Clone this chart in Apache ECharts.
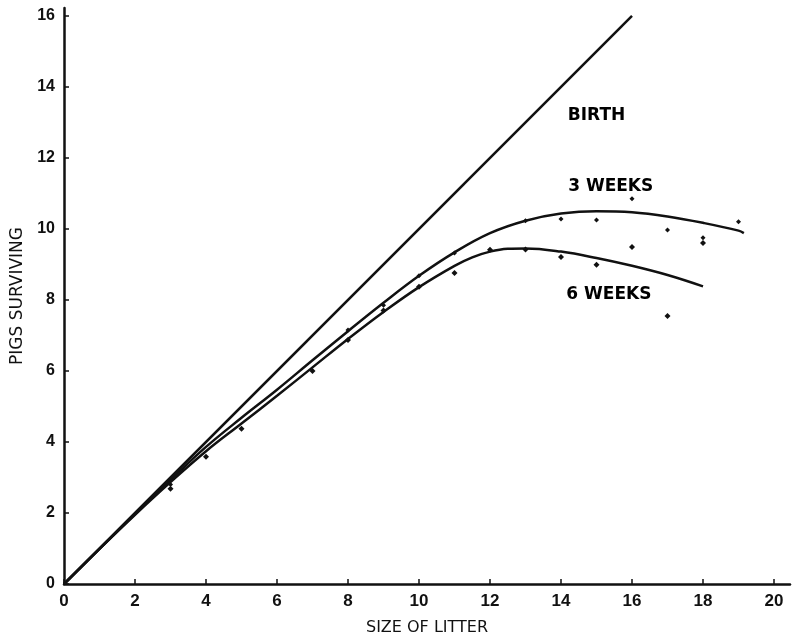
<!DOCTYPE html>
<html>
<head>
<meta charset="utf-8">
<title>Pigs surviving by size of litter</title>
<script src="https://cdn.jsdelivr.net/npm/echarts@6/dist/echarts.min.js"></script>
<style>
  html, body { margin: 0; padding: 0; background: #fff; }
  #chart { width: 799px; height: 641px; }
</style>
</head>
<body>
<div id="chart"></div>
<script>
// Litter size at birth equals pigs alive at birth
const birthSize = [0, 16];
const birthAlive = [0, 16];

// Fitted curve, pigs alive at 3 weeks
const curve3Size = [0, 1, 2, 3, 4, 5, 6, 7, 8, 9, 10, 11, 12, 13, 14, 15, 16, 17, 18, 19, 19.15];
const curve3Alive = [0, 0.99, 1.97, 2.93, 3.86, 4.68, 5.47, 6.3, 7.12, 7.92, 8.68, 9.34, 9.88, 10.23, 10.43, 10.5, 10.47, 10.35, 10.17, 9.95, 9.88];

// Fitted curve, pigs alive at 6 weeks
const curve6Size = [0, 1, 2, 3, 4, 5, 6, 7, 8, 9, 10, 11, 11.5, 12, 12.5, 13, 14, 15, 16, 17, 18];
const curve6Alive = [0, 0.99, 1.95, 2.87, 3.74, 4.52, 5.3, 6.1, 6.9, 7.66, 8.36, 8.96, 9.2, 9.36, 9.44, 9.45, 9.36, 9.18, 8.96, 8.7, 8.38];

// Observed averages, 3 weeks
const obs3Size = [3, 8, 9, 10, 11, 13, 14, 15, 16, 17, 18, 19];
const obs3Alive = [2.8, 7.15, 7.85, 8.68, 9.32, 10.23, 10.28, 10.25, 10.85, 9.97, 9.75, 10.2];

// Observed averages, 6 weeks
const obs6Size = [3, 4, 5, 7, 8, 9, 10, 11, 12, 13, 14, 15, 16, 17, 18];
const obs6Alive = [2.68, 3.58, 4.37, 6.0, 6.87, 7.7, 8.37, 8.76, 9.41, 9.42, 9.21, 8.99, 9.49, 7.55, 9.6];

// Curve captions, placed in data units
const captionText = ['BIRTH', '3 WEEKS', '6 WEEKS'];
const captionSize = [15.0, 15.4, 15.35];
const captionAlive = [13.2, 11.2, 8.14];

// Axis tick labels
const xTicks = [0, 2, 4, 6, 8, 10, 12, 14, 16, 18, 20];
const yTicks = [0, 2, 4, 6, 8, 10, 12, 14, 16];

const zip = (xs, ys) => xs.map((x, i) => [x, ys[i]]);

const ink = '#111';
const font = 'Liberation Sans';
const wideFont = 'DejaVu Sans';

const chart = echarts.init(document.getElementById('chart'));
chart.setOption({
  animation: false,
  backgroundColor: '#fff',
  grid: { left: 64, right: 9, top: 8, bottom: 57, containLabel: false, outerBoundsMode: 'none' },
  xAxis: {
    type: 'value', min: 0, max: 20.45,
    name: 'SIZE OF LITTER', nameLocation: 'middle', nameGap: 36,
    nameTextStyle: { color: ink, fontFamily: wideFont, fontSize: 16 },
    axisLine: { show: true, lineStyle: { color: ink, width: 2.5 } },
    axisTick: { show: true, inside: true, length: 5, customValues: xTicks, lineStyle: { color: ink, width: 1.5 } },
    axisLabel: { customValues: xTicks, color: ink, fontFamily: font, fontSize: 17, fontWeight: 'bold', margin: 9 },
    splitLine: { show: false }
  },
  yAxis: {
    type: 'value', min: 0, max: 16.22,
    name: 'PIGS SURVIVING', nameLocation: 'middle', nameGap: 37, nameRotate: 90,
    nameTextStyle: { color: ink, fontFamily: wideFont, fontSize: 17 },
    axisLine: { show: true, lineStyle: { color: ink, width: 2.5 } },
    axisTick: { show: true, inside: true, length: 5, customValues: yTicks, lineStyle: { color: ink, width: 1.5 } },
    axisLabel: { customValues: yTicks, color: ink, fontFamily: font, fontSize: 16, fontWeight: 'bold', margin: 9 },
    splitLine: { show: false }
  },
  series: [
    {
      name: 'Birth', type: 'line', data: zip(birthSize, birthAlive),
      symbol: 'none', lineStyle: { color: ink, width: 2.5 }
    },
    {
      name: '3 weeks curve', type: 'line', data: zip(curve3Size, curve3Alive),
      symbol: 'none', smooth: 0.4, lineStyle: { color: ink, width: 2.5 }
    },
    {
      name: '6 weeks curve', type: 'line', data: zip(curve6Size, curve6Alive),
      symbol: 'none', smooth: 0.4, lineStyle: { color: ink, width: 2.5 }
    },
    {
      name: '3 weeks', type: 'scatter', data: zip(obs3Size, obs3Alive),
      symbol: 'diamond', symbolSize: 5, itemStyle: { color: ink, opacity: 1 }
    },
    {
      name: '6 weeks', type: 'scatter', data: zip(obs6Size, obs6Alive),
      symbol: 'diamond', symbolSize: 6, itemStyle: { color: ink, opacity: 1 }
    },
    {
      name: 'captions', type: 'scatter', symbolSize: 0, silent: true,
      itemStyle: { opacity: 1 },
      data: captionText.map((t, i) => ({ value: [captionSize[i], captionAlive[i]], name: t })),
      label: {
        show: true, position: 'inside', formatter: p => p.name,
        color: '#000', opacity: 1, fontFamily: wideFont, fontSize: 17, fontWeight: 'bold'
      }
    }
  ]
});
</script>
</body>
</html>
